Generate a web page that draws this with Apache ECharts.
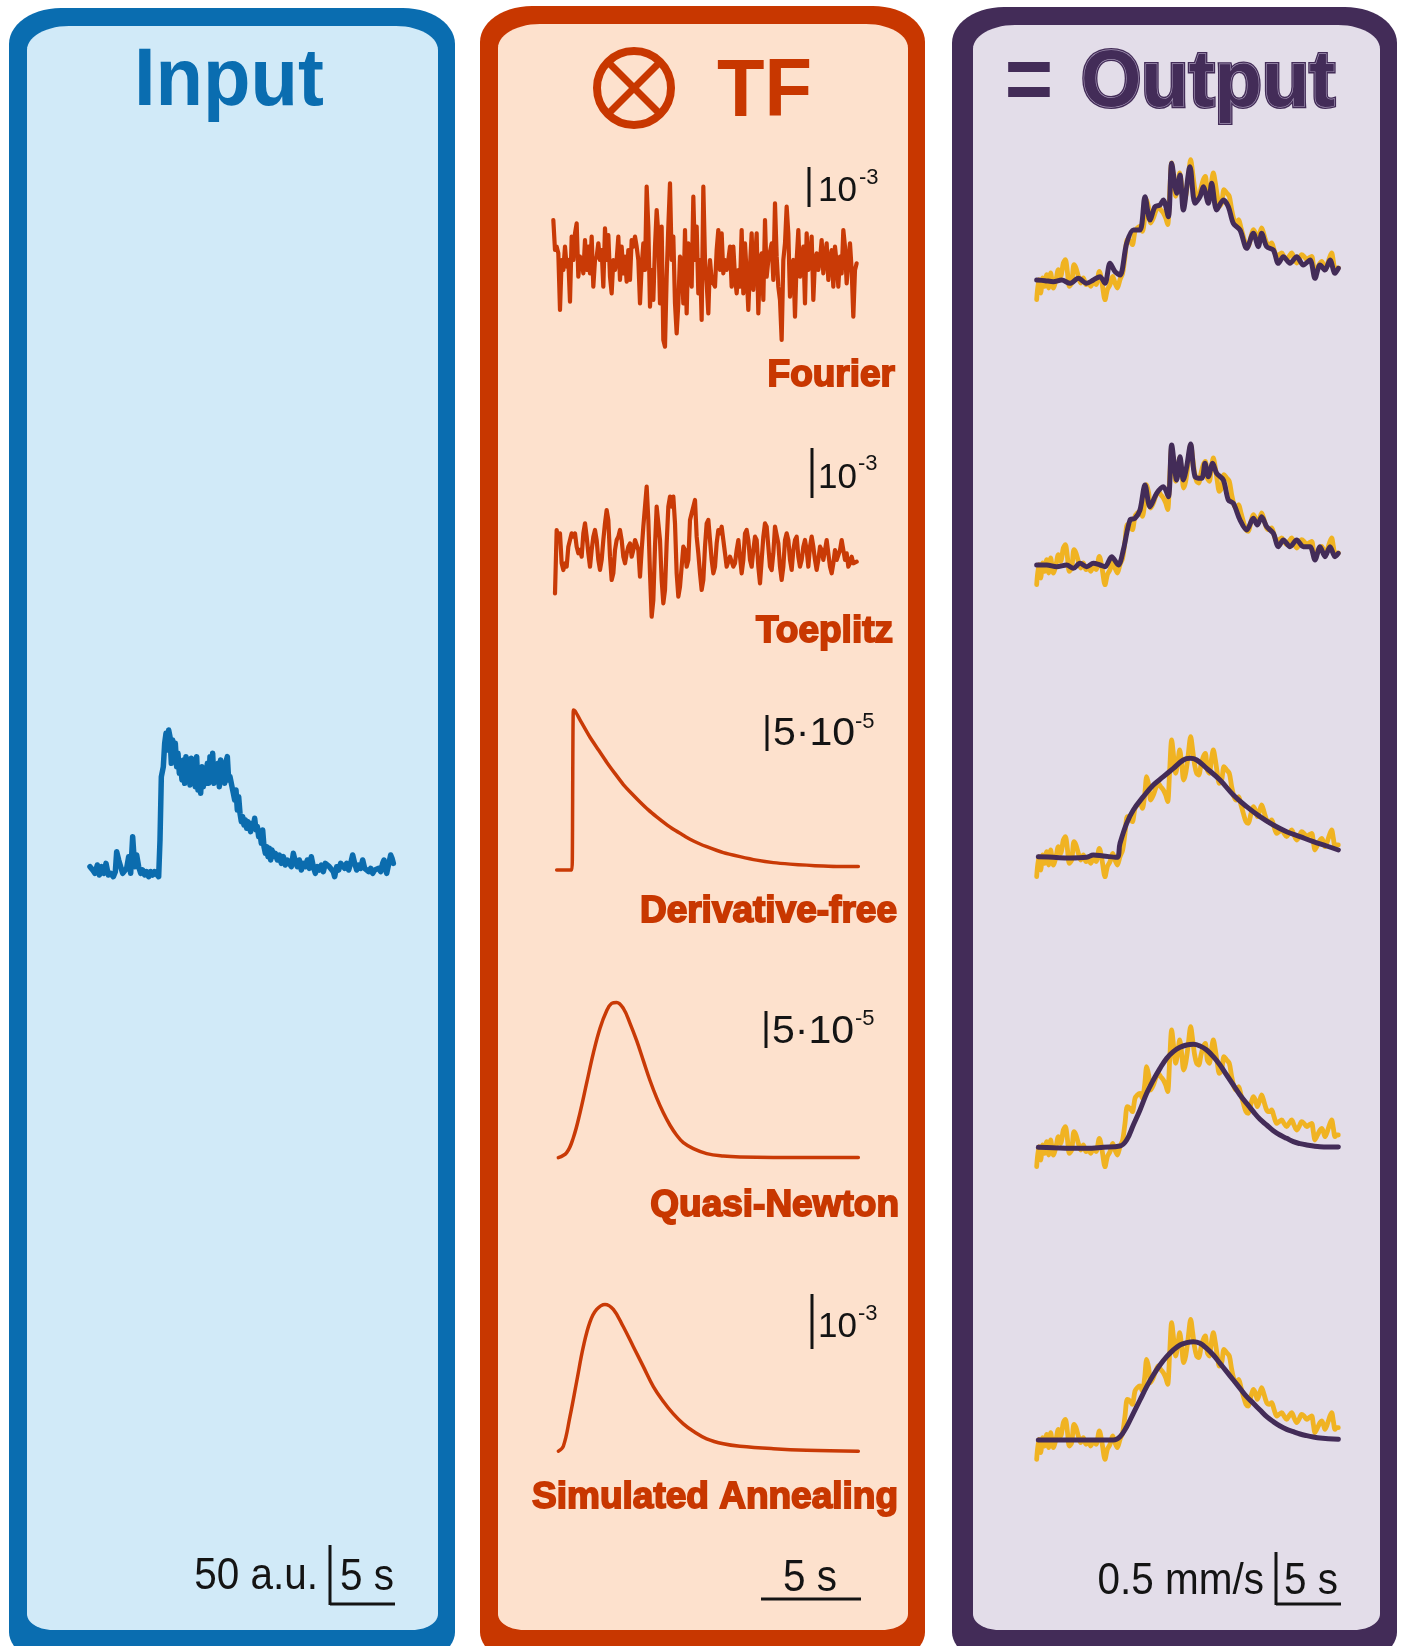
<!DOCTYPE html>
<html><head><meta charset="utf-8">
<script src="https://cdn.jsdelivr.net/npm/echarts@6/dist/echarts.min.js"></script>
<style>html,body{margin:0;padding:0;background:#fff}#c{width:1406px;height:1646px}</style>
</head><body><div id="c"></div>
<script>
// ---------------- DATA ----------------
const inputTime = [30,38,45,52,58,65,72,78,85,92,100,106,110,116,122,128,134,140,146,152,158,164,170,176,182,188,194,200,206,212,218,224,230,236,240,244,250,254,258,262,266,270,274,278,282,286,290,294,298,302,306,310,314,318,322,326,330,334,338,342,346,350,354,358,362,366,370,374,378,382,386,390,394,398,402,406,410,414,418,422,426,430,434,438,442,446,450,456,460,464,468,472,476,480,484,488,492,496,500,504,508,512,516,520,524,528,532,536,540,544,548,552,556,560,564,568,572,576,580,586,592,598,604,610,616,622,628,634,640,646,652,658,664,670,676,682,688,694,700,706,712,718,724,730,736,742,748,754,760,764,770,776,782,788,794,800,806,812,818,824,830,836,842,848,854,860,866,872,878,884,890,896,902,908,912,916,920,926,932,936,940];
const inputSignal = [100,90,80,105,75,100,80,110,75,80,70,85,145,120,100,80,75,95,130,80,190,100,135,100,80,90,75,85,70,85,75,85,80,70,180,370,400,470,500,450,510,490,410,480,440,470,400,440,380,400,360,420,350,430,370,400,345,425,360,420,340,430,330,380,320,400,340,390,350,410,350,430,370,440,350,400,360,410,340,420,360,410,350,415,430,360,370,340,320,300,330,270,310,260,235,250,225,240,215,235,240,205,230,220,245,210,220,190,200,170,210,160,140,160,130,155,120,150,130,140,120,135,110,130,105,120,125,100,140,115,100,120,90,110,100,120,95,130,100,80,100,90,105,85,110,115,100,105,85,70,100,90,110,115,95,110,90,110,135,110,90,105,95,120,95,100,85,95,80,90,85,95,85,110,120,95,80,80,135,125,110];

const fourierTF = [120,30,40,20,-150,0,-30,40,-20,0,-125,70,0,80,110,-50,10,0,-40,60,-30,40,-40,70,-80,0,10,50,0,30,-80,95,0,75,-50,-100,0,-30,0,70,-60,40,-40,10,-65,30,-60,60,40,70,40,0,-130,-20,50,-30,220,100,-140,-30,-120,40,150,80,-130,100,-240,-260,-50,100,230,0,70,-130,-220,-130,10,0,-130,90,-160,50,0,-80,190,0,100,-100,0,-180,220,0,-70,-160,0,-60,-60,-80,30,90,-30,80,-40,0,-30,0,40,-80,40,-50,-100,-30,-80,90,-100,50,-40,-150,-20,80,-90,0,80,-160,0,20,-120,120,-50,0,0,50,-60,170,10,-80,-120,-240,0,50,160,80,-110,-20,0,-170,0,90,-50,0,40,-130,80,-30,0,70,-120,0,20,-30,0,60,-40,10,50,-60,0,30,-80,40,-10,-80,10,-40,90,40,-70,0,50,-30,-170,-30,-10];
const toeplitzTF = [-120,70,40,60,-30,-50,-30,-40,20,40,60,50,60,20,0,10,-10,60,90,50,0,-40,10,50,70,40,-20,-50,-20,40,90,130,100,-10,-80,-60,10,40,50,70,40,-10,-30,0,20,30,-10,10,40,40,10,-70,10,80,140,200,100,-60,-190,-140,20,140,140,40,-80,-150,-110,30,140,170,140,170,90,-60,-130,-100,-40,20,10,-40,-20,100,120,140,160,50,0,-60,-110,-80,20,90,100,40,-20,-60,-40,30,70,60,80,40,0,-40,-40,-10,-10,-40,-30,10,40,-10,-60,-20,60,70,40,-20,-40,10,50,40,-40,-90,-20,50,90,80,20,-40,-50,0,80,80,30,-40,-80,-40,40,60,40,-20,-50,10,40,50,-10,-40,-20,20,40,10,-40,20,50,20,-20,-50,-20,20,10,-20,10,40,40,-40,-60,-30,10,-20,-20,10,40,40,-20,0,-40,-30,-10,-30,-30,-25];
const dfTime = [50,95,97,100,105,120,150,175,200,225,250,275,300,325,350,375,400,425,450,475,500,550,600,650,700,750,800,850,900,955];
const dfTF   = [0,0,22,322,320,302,267,242,217,194,172,154,137,121,107,94,82,72,62,54,47,35,27,20,15,12,10,8,7,7];
const qnTime = [55,80,100,120,140,160,180,200,215,230,250,270,290,310,330,350,370,390,410,430,460,500,550,600,700,955];
const qnTF   = [0,10,40,90,150,210,260,295,310,312,300,270,235,195,155,120,90,65,45,30,18,8,3,1,0,0];
const saTime = [55,70,90,110,130,150,170,195,220,250,280,310,340,370,400,430,460,500,550,600,700,800,955];
const saTF   = [5,15,75,145,215,265,290,300,290,255,215,175,135,105,80,60,45,30,20,15,10,7,5];

const outTime = [50,56,62,68,74,80,86,92,100,108,115,122,130,136,142,148,155,162,168,175,182,190,198,205,212,220,228,238,246,255,262,270,278,285,292,300,308,315,322,330,337,345,352,360,367,374,380,386,392,400,407,415,422,430,437,443,449,455,461,467,473,479,485,491,497,504,512,518,524,530,536,543,550,556,562,568,574,580,586,592,598,605,612,620,628,635,642,649,656,663,670,678,685,692,700,706,712,718,725,732,740,748,755,762,770,777,785,792,800,807,815,822,830,837,845,852,860,867,875,880,885,890,895,900,905,910,915,920,925,930,935,940,945,950,955];
const outMeasured = [10,70,30,75,50,85,45,90,45,70,100,80,120,130,95,50,60,115,105,80,60,75,55,60,50,65,55,95,60,10,40,55,80,60,45,70,90,140,190,185,175,215,225,230,215,255,310,285,240,255,275,290,280,270,255,235,330,420,370,320,350,390,350,300,320,370,430,390,345,320,315,345,370,380,330,320,360,390,360,320,290,300,340,330,320,280,250,240,250,225,200,175,170,195,220,210,190,205,225,205,180,175,180,160,140,145,150,140,130,140,150,135,120,130,145,140,130,135,140,115,90,100,110,120,125,115,100,110,125,140,150,125,100,105,105];

const fourierOutTime = [50,75,100,125,150,175,200,220,240,255,270,285,300,320,340,360,375,390,405,420,430,445,455,470,480,490,510,525,540,550,565,575,590,610,625,640,660,680,700,715,725,740,760,775,790,810,830,850,870,885,900,915,930,945,955];
const fourierOut = [69,67,64,69,59,74,59,69,79,59,119,94,84,179,219,219,319,249,289,294,309,259,419,329,384,279,409,299,319,349,299,359,279,309,289,239,219,164,209,169,209,169,159,119,139,119,139,114,129,74,114,99,129,89,104];
const toeplitzOutTime = [50,80,110,140,160,180,200,220,240,255,275,295,310,330,345,360,375,390,410,430,445,455,470,480,490,500,512,525,545,555,565,578,590,610,625,640,660,680,700,712,725,740,760,775,790,810,830,850,870,885,900,915,930,945,955];
const toeplitzOut = [69,69,64,69,59,74,64,74,69,64,94,69,114,204,209,234,309,244,284,304,274,429,324,394,324,364,432,334,329,374,334,374,344,324,264,254,204,174,209,189,214,184,164,124,144,124,144,124,124,84,124,94,124,94,104];
const dfOutTime = [55,100,150,200,220,250,290,300,320,340,370,400,430,460,490,510,530,560,600,640,680,720,760,800,840,880,920,955];
const dfOut = [70,68,66,68,75,72,68,110,170,210,250,285,310,335,360,365,360,335,300,255,220,190,165,145,130,115,102,90];
const qnOutTime = [55,100,150,200,250,300,320,340,360,380,400,420,440,460,480,500,520,540,560,580,600,620,640,660,680,700,720,740,760,780,800,820,840,860,880,900,955];
const qnOut = [68,67,65,65,68,72,90,135,180,230,270,305,335,355,368,375,377,372,360,340,315,285,255,225,200,175,152,135,118,105,95,85,79,75,72,70,69];
const saOutTime = [55,280,300,320,340,360,380,400,420,440,460,480,500,520,540,560,580,600,620,640,660,680,700,720,740,760,780,800,820,840,860,880,900,955];
const saOut = [68,68,78,108,148,188,228,263,293,318,338,353,360,363,358,343,323,298,273,248,223,198,178,158,138,123,110,100,93,86,81,77,74,70];

// ---------------- STYLE ----------------
const C = {
  inB:'#0a6db0', inF:'#d1eaf8', inL:'#0b6cae',
  tfB:'#c83700', tfF:'#fde1cd', tfL:'#c93a06',
  outB:'#432c58', outF:'#e3dde9', yel:'#f0b322', pur:'#432c58', ink:'#141414'
};
function zip(t,v){const n=Math.min(t.length,v.length),o=[];for(let i=0;i<n;i++)o.push([t[i],v[i]]);return o;}
function spread(t0,t1,v){const s=(t1-t0)/(v.length-1);return v.map((y,i)=>[t0+i*s,y]);}

const grids=[], xs=[], ys=[], series=[];
function addGrid(left,top,width,height,xmin,xmax,ymin,ymax){
  const i=grids.length;
  grids.push({left,top,width,height,show:false,containLabel:false});
  xs.push({gridIndex:i,type:'value',min:xmin,max:xmax,show:false});
  ys.push({gridIndex:i,type:'value',min:ymin,max:ymax,show:false});
  return i;
}
function addLine(i,data,color,width,smooth){
  series.push({type:'line',xAxisIndex:i,yAxisIndex:i,data,showSymbol:false,symbol:'none',
    smooth:smooth||false,clip:false,silent:true,animation:false,
    lineStyle:{color,width,cap:'round',join:'round'}});
}

let g=addGrid(90,700,303.33,200,30,940,0,600);
addLine(g,zip(inputTime,inputSignal),C.inL,5.5);
g=addGrid(553.33,160,303.33,200,40,950,-300,300); addLine(g,spread(40,950,fourierTF),C.tfL,4.2);
g=addGrid(555,440,301.67,200,45,950,-260,340); addLine(g,spread(45,950,toeplitzTF),C.tfL,4.2);
g=addGrid(556.67,709.9,301.67,160.2,50,955,0,322); addLine(g,zip(dfTime,dfTF),C.tfL,3.5,0.2);
g=addGrid(556.67,1002.4,301.67,155.2,50,955,0,312); addLine(g,zip(qnTime,qnTF),C.tfL,3.5,0.4);
g=addGrid(556.67,1304.4,301.67,149.3,50,955,0,300); addLine(g,zip(saTime,saTF),C.tfL,3.5,0.4);
const outBases=[143,428,720,1010,1302.67];
const preds=[[fourierOutTime,fourierOut,0.3],[toeplitzOutTime,toeplitzOut,0.3],[dfOutTime,dfOut,0.4],[qnOutTime,qnOut,0.4],[saOutTime,saOut,0.4]];
outBases.forEach((b,k)=>{
  const gi=addGrid(1036.67,b+13.33,301.67,146.67,50,955,0,440);
  addLine(gi,zip(outTime,outMeasured),C.yel,4.8,0.3);
  addLine(gi,zip(preds[k][0],preds[k][1]),C.pur,5,preds[k][2]);
});

// ---------------- GRAPHICS ----------------
function rrPoints(x0,y0,x1,y1,rx,ry,bx,by){
  const pts=[], N=14;
  const corner=(cx,cy,ax,ay,a0,a1)=>{for(let i=0;i<=N;i++){const a=a0+(a1-a0)*i/N;pts.push([cx+ax*Math.cos(a),cy+ay*Math.sin(a)]);}};
  corner(x1-rx,y0+ry,rx,ry,-Math.PI/2,0);
  corner(x1-bx,y1-by,bx,by,0,Math.PI/2);
  corner(x0+bx,y1-by,bx,by,Math.PI/2,Math.PI);
  corner(x0+rx,y0+ry,rx,ry,Math.PI,Math.PI*1.5);
  return pts;
}
const G=[];
function panel(ox0,oy0,ox1,ix0,iy0,ix1,border,fill){
  G.push({type:'polygon',z:-10,silent:true,shape:{points:rrPoints(ox0,oy0,ox1,1664,52,36,50,32)},style:{fill:border}});
  G.push({type:'polygon',z:-9,silent:true,shape:{points:rrPoints(ix0,iy0,ix1,1630,42,24,26,16)},style:{fill:fill}});
}
panel(9,8,455,27,26,438,C.inB,C.inF);
panel(480,6,925,498,24,908,C.tfB,C.tfF);
panel(952,7,1397,973,25,1380,C.outB,C.outF);

function txt(x,y,text,o){
  const el={type:'text',x,y,z:5,silent:true,
    style:Object.assign({text,fill:C.ink,align:'left',verticalAlign:'middle',fontFamily:'"Liberation Sans", Arial, sans-serif',fontSize:34},o.style||{})};
  if(o.scaleX) el.scaleX=o.scaleX;
  G.push(el);
}
function line(x1,y1,x2,y2,w,color){
  G.push({type:'line',z:5,silent:true,shape:{x1,y1,x2,y2},style:{stroke:color||C.ink,lineWidth:w||3}});
}
txt(229,83,'Input',{scaleX:0.96,style:{fill:C.inB,fontSize:81,fontWeight:'bold',align:'center'}});
G.push({type:'circle',z:5,silent:true,shape:{cx:634,cy:88,r:37},style:{fill:'none',stroke:C.tfB,lineWidth:8}});
line(608,62,660,114,7,C.tfB); line(660,62,608,114,7,C.tfB);
txt(764.5,94,'TF',{scaleX:0.96,style:{fill:C.tfB,fontSize:81,fontWeight:'bold',align:'center'}});
txt(1029,85,'=',{scaleX:0.9,style:{fill:C.outB,fontSize:92,fontWeight:'bold',align:'center'}});
txt(1208,84,'Output',{scaleX:0.97,style:{fill:C.outB,fontSize:80,fontWeight:'bold',align:'center',stroke:C.outB,lineWidth:4}});
txt(1208,84,'Output',{scaleX:0.97,style:{fill:C.outB,fontSize:80,fontWeight:'bold',align:'center',stroke:'#a394b4',lineWidth:1.3}});

const tfLabels=[['Fourier',895,376],['Toeplitz',893,632],['Derivative-free',897,912],['Quasi-Newton',899,1206],['Simulated Annealing',898,1498]];
tfLabels.forEach(([t,x,y])=>txt(x,y,t,{style:{fill:C.tfB,fontSize:37,fontWeight:'bold',align:'right',stroke:C.tfB,lineWidth:1.8}}));

// [barX, barTop, barBottom, main, mainX, mainY, sup, supX, supY, mainScale]
const markers=[
  [809,167,207,'10',818,191,'-3',859,178,1],
  [812,448,498,'10',818,478,'-3',858,464,1],
  [767,715,751,'5·10',773,735,'-5',855,722,1.08],
  [766,1011,1048,'5·10',772,1033,'-5',855,1019,1.08],
  [812,1294,1349,'10',818,1327,'-3',858,1314,1]
];
markers.forEach(m=>{
  line(m[0],m[1],m[0],m[2],3);
  txt(m[4],m[5],m[3],{scaleX:m[9],style:{fontSize:m[9]>1?38:35}});
  txt(m[7],m[8],m[6],{style:{fontSize:22}});
});

line(330,1545,330,1605,3); line(330,1604,395,1604,3);
txt(318,1577,'50 a.u.',{scaleX:0.92,style:{fontSize:44,align:'right'}});
txt(340,1578,'5 s',{scaleX:0.92,style:{fontSize:44}});
line(761,1599,861,1599,3);
txt(810,1579,'5 s',{scaleX:0.92,style:{fontSize:44,align:'center'}});
line(1276,1552,1276,1605,3); line(1276,1604,1341,1604,3);
txt(1264,1582,'0.5 mm/s',{scaleX:0.92,style:{fontSize:44,align:'right'}});
txt(1284,1582,'5 s',{scaleX:0.92,style:{fontSize:44}});

const chart=echarts.init(document.getElementById('c'),null,{renderer:'canvas',width:1406,height:1646});
chart.setOption({backgroundColor:'#ffffff',animation:false,grid:grids,xAxis:xs,yAxis:ys,series,graphic:{elements:G}});
</script></body></html>
